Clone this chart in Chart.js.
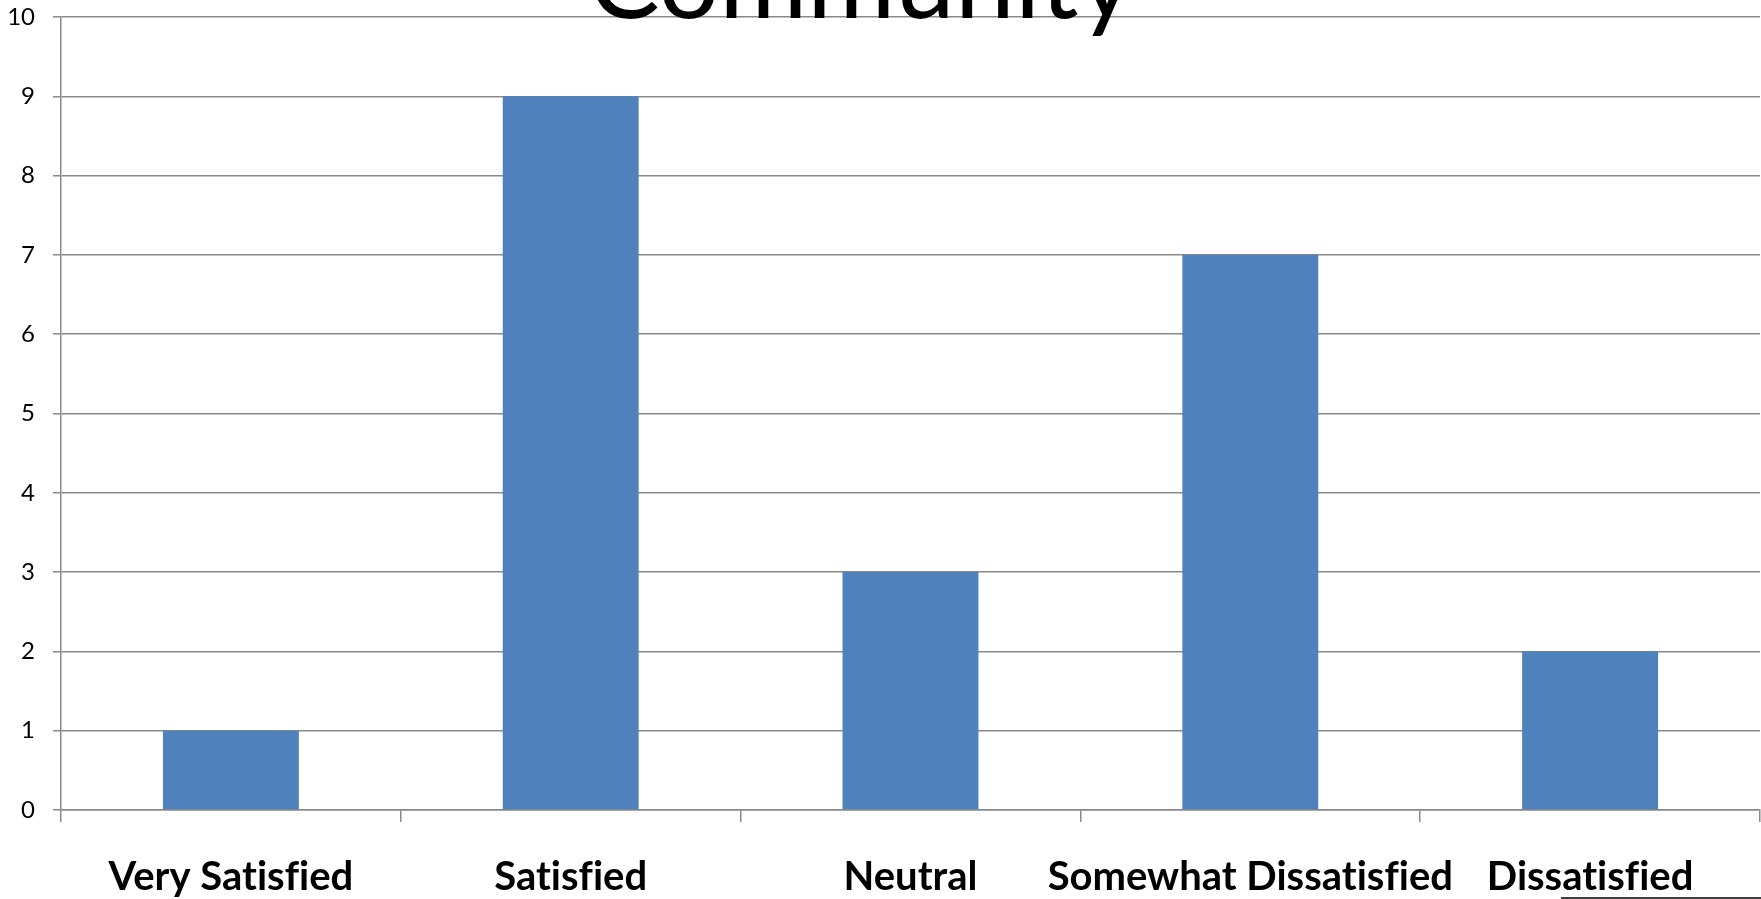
<!DOCTYPE html>
<html>
<head>
<meta charset="utf-8">
<script src="https://cdn.jsdelivr.net/npm/chart.js@4.4.1/dist/chart.umd.min.js"></script>
<style>
  html, body { margin: 0; padding: 0; background: #ffffff; }
  #wrap { width: 1761px; height: 899px; position: relative; }
  canvas { font-variant-ligatures: none; }
</style>
</head>
<body>
<div id="wrap"><canvas id="c" width="1761" height="899"></canvas></div>
<script>
const titleText = "Community";
const categories = ["Very Satisfied", "Satisfied", "Neutral", "Somewhat Dissatisfied", "Dissatisfied"];
const responses = [1, 9, 3, 7, 2];
const yTicks = [0, 1, 2, 3, 4, 5, 6, 7, 8, 9, 10];

const gridColor = "#898989";
const barColor = "#4F81BD";

const noLigatures = {
  id: "noLigatures",
  beforeDraw(chart) {
    try { chart.ctx.textRendering = "optimizeSpeed"; } catch (e) {}
  }
};

const titlePlugin = {
  id: "cutTitle",
  afterDraw(chart) {
    const ctx = chart.ctx;
    ctx.save();
    ctx.fillStyle = "#000000";
    ctx.font = "107px Lato";
    ctx.textAlign = "center";
    ctx.textBaseline = "alphabetic";
    ctx.fillText(titleText, 861, 18);
    ctx.strokeStyle = "#000000";
    ctx.lineWidth = 1.5;
    ctx.beginPath();
    ctx.moveTo(1561, 898);
    ctx.lineTo(1761, 898);
    ctx.stroke();
    ctx.restore();
  }
};

new Chart(document.getElementById("c"), {
  type: "bar",
  data: {
    labels: categories,
    datasets: [{
      label: "Responses",
      data: responses,
      backgroundColor: barColor,
      borderWidth: 0,
      categoryPercentage: 1.0,
      barPercentage: 0.4
    }]
  },
  options: {
    responsive: false,
    animation: false,
    devicePixelRatio: 1,
    layout: { padding: { top: 17, right: 1, bottom: 0, left: 0 } },
    plugins: {
      legend: { display: false },
      title: { display: false },
      tooltip: { enabled: false }
    },
    scales: {
      x: {
        offset: true,
        grid: {
          display: true,
          offset: true,
          drawOnChartArea: false,
          drawTicks: true,
          tickLength: 12,
          color: gridColor,
          lineWidth: 1.5
        },
        border: { display: true, color: gridColor, width: 1.5 },
        ticks: {
          color: "#000000",
          font: { family: "Lato", size: 40, weight: "bold" },
          padding: 31,
          maxRotation: 0,
          autoSkip: false
        },
        afterFit(scale) { scale.height = 89; }
      },
      y: {
        min: 0,
        max: 10,
        afterBuildTicks(scale) { scale.ticks = yTicks.map(v => ({ value: v })); },
        grid: {
          display: true,
          drawTicks: true,
          tickLength: 8,
          color: gridColor,
          lineWidth: 1.5
        },
        border: { display: true, color: gridColor, width: 1.5 },
        ticks: {
          color: "#000000",
          font: { family: "Lato", size: 24 },
          padding: 18
        },
        afterFit(scale) {
          scale.width = 61;
          scale.paddingTop = 0;
          scale.paddingBottom = 0;
        }
      }
    }
  },
  plugins: [noLigatures, titlePlugin]
});
</script>
</body>
</html>
